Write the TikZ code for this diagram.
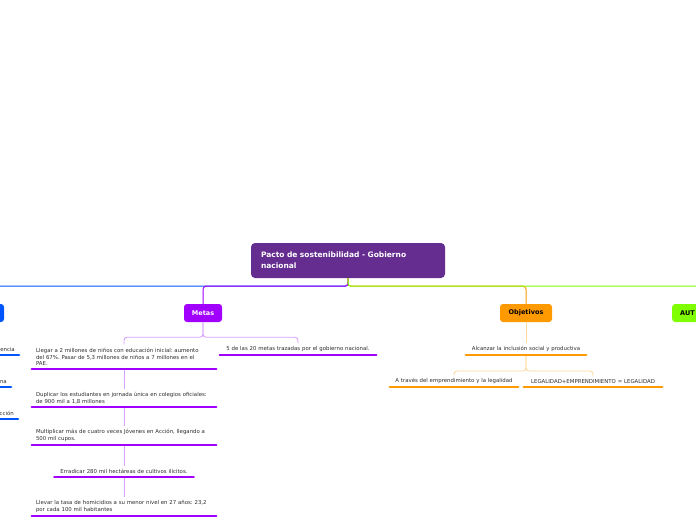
\documentclass[tikz,border=0pt]{standalone}
\usepackage{fontspec}
\setmainfont{DejaVu Sans}
\usetikzlibrary{positioning}
\definecolor{rootpurple}{RGB}{102,45,145}
\definecolor{metaviolet}{RGB}{161,0,255}
\definecolor{metalight}{RGB}{216,160,255}
\definecolor{branchblue}{RGB}{0,85,255}
\definecolor{objorange}{RGB}{255,153,0}
\definecolor{objlight}{RGB}{255,218,160}
\definecolor{autgreen}{RGB}{128,255,0}
\definecolor{itemgray}{RGB}{45,45,45}

\tikzset{
  branchbox/.style={rounded corners=3pt, minimum height=18pt, inner xsep=8pt, inner ysep=0pt,
    font=\fontsize{6.5}{8}\selectfont\bfseries, text=white},
  item/.style={font=\fontsize{5.4}{6.8}\selectfont\frenchspacing, text=itemgray, inner xsep=4pt, inner ysep=3pt},
  link/.style={line width=0.9pt, rounded corners=3pt},
  uline/.style={line width=2.6pt, line cap=round},
}

\begin{document}
\begin{tikzpicture}[x=1pt,y=-1pt]
\useasboundingbox (0,0) rectangle (696,520);
\clip (0,0) rectangle (696,520);
% central topic and main branches
\node[fill=rootpurple, rounded corners=4pt, text=white, font=\fontsize{7.5}{11}\selectfont\bfseries,
  text width=174pt, inner xsep=10pt, minimum height=35pt, align=left] (root) at (348,260.5)
  {Pacto de sostenibilidad - Gobierno\\nacional};
\node[branchbox, fill=branchblue, minimum width=40pt] (plan) at (-16,313) {};
\node[branchbox, fill=metaviolet, minimum width=38pt, inner xsep=4pt] (metas) at (203,313) {Metas};
\node[branchbox, fill=objorange, text=black, minimum width=52pt, inner xsep=4pt] (objetivos) at (526,313) {Objetivos};
\node[branchbox, fill=autgreen, text=black, anchor=west, text width=44pt, align=left] (autores) at (672,313) {AUT};

% metas
\node[item, text width=176pt, align=left, anchor=south] (m1) at (124,369)
  {Llegar a 2 millones de niños con educación inicial: aumento\\del 67\%. Pasar de 5,3 millones de niños a 7 millones en el\\PAE.};
\node[item, text width=176pt, align=left, anchor=south] (m2) at (124,407)
  {Duplicar los estudiantes en jornada única en colegios oficiales:\\de 900 mil a 1,8 millones};
\node[item, text width=176pt, align=left, anchor=south] (m3) at (124,445)
  {Multiplicar más de cuatro veces Jóvenes en Acción, llegando a\\500 mil cupos.};
\node[item, text width=131pt, align=center, anchor=south] (m4) at (124,477)
  {Erradicar 280 mil hectáreas de cultivos ilícitos.};
\node[item, text width=176pt, align=left, anchor=south] (m5) at (124,516)
  {Llevar la tasa de homicidios a su menor nivel en 27 años: 23,2\\por cada 100 mil habitantes};
\node[item, text width=148pt, align=center, anchor=south] (m0) at (298,355)
  {5 de las 20 metas trazadas por el gobierno nacional.};

% objetivos
\node[item, text width=112pt, align=center, anchor=south] (o1) at (526,355)
  {Alcanzar la inclusión social y productiva};
\node[item, text width=120pt, align=center, anchor=south] (o2) at (454,387)
  {A través del emprendimiento y la legalidad};
\node[item, text width=130pt, align=center, anchor=south] (o3) at (593,387)
  {LEGALIDAD+EMPRENDIMIENTO = LEGALIDAD};

% left branch, cut by the page edge
\node[item, text width=60pt, align=right, anchor=south east] (b1) at (19,355) {encia};
\node[item, text width=60pt, align=right, anchor=south east] (b2) at (11,387) {na};
\node[item, text width=60pt, align=right, anchor=south east] (b3) at (18,419) {cción};

% connectors
\draw[link, line width=1pt, branchblue] (root.south) -- ++(0,8) -| (plan.north);
\draw[link, line width=1pt, metaviolet] (root.south) -- ++(0,8) -| (metas.north);
\draw[link, line width=1pt, objorange] (root.south) -- ++(0,8) -| (objetivos.north);
\draw[link, line width=1pt, autgreen] (root.south) -- ++(0,8) -| (autores.north);

\draw[link, metalight] (metas.south) -- ++(0,15) -| (m1.north);
\draw[link, metalight] (metas.south) -- ++(0,15) -| (m0.north);
\foreach \a/\b in {m1/m2,m2/m3,m3/m4,m4/m5}
  \draw[link, metalight] (\a.south) -- (\b.north);

\draw[link, objlight] (objetivos.south) -- (o1.north);
\draw[link, objlight] (o1.south) -- ++(0,16) -| (o2.north);
\draw[link, objlight] (o1.south) -- ++(0,16) -| (o3.north);

% underlines
\foreach \n in {m0,m1,m2,m3,m4,m5}
  \draw[uline, metaviolet] (\n.south west) -- (\n.south east);
\foreach \n in {o1,o2,o3}
  \draw[uline, objorange] (\n.south west) -- (\n.south east);
\foreach \n in {b1,b2,b3}
  \draw[uline, branchblue] (\n.south west) -- (\n.south east);
\end{tikzpicture}
\end{document}
